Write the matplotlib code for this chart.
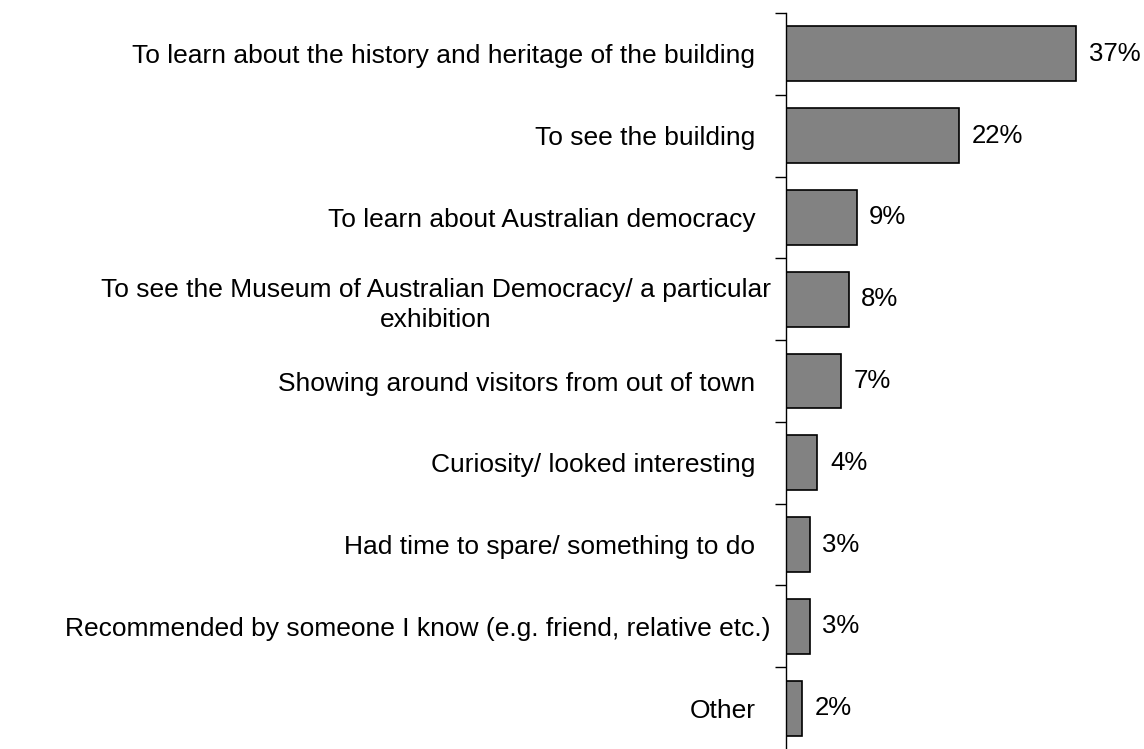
import matplotlib.pyplot as plt

# reasons for visiting, top to bottom
reasons = [
    "To learn about the history and heritage of the building",
    "To see the building",
    "To learn about Australian democracy",
    "To see the Museum of Australian Democracy/ a particular\nexhibition",
    "Showing around visitors from out of town",
    "Curiosity/ looked interesting",
    "Had time to spare/ something to do",
    "Recommended by someone I know (e.g. friend, relative etc.)",
    "Other",
]
percent = [37, 22, 9, 8, 7, 4, 3, 3, 2]

plt.rcParams['font.family'] = ['Liberation Sans', 'DejaVu Sans']

fig = plt.figure(figsize=(11.44, 7.49), dpi=100)
ax = fig.add_axes([786 / 1144, 0, 358 / 1144, 736 / 749])

y = list(range(len(reasons)))
ax.barh(y, percent, height=0.67, color='#828282', edgecolor='black', linewidth=1.2)

for yi, p in zip(y, percent):
    ax.text(p + 1.6, yi, f"{p}%", va='center', ha='left', fontsize=18.5)

ax.set_xlim(0, 358 / 7.85)
ax.set_ylim(len(reasons) - 0.5, -0.5)

# category labels on the left, ticks drawn between categories
ax.set_yticks(y)
ax.set_yticklabels(reasons, fontsize=19, ha='right', multialignment='center',
                   linespacing=1.35)
ax.tick_params(axis='y', which='major', length=0, pad=22)
# the two longest labels sit a little closer to the axis
for i in (3, 7):
    ax.yaxis.get_major_ticks()[i].set_pad(11)
ax.set_yticks([i - 0.5 for i in range(len(reasons))], minor=True)
ax.tick_params(axis='y', which='minor', length=8, width=1)

ax.set_xticks([])
for side in ['top', 'right', 'bottom']:
    ax.spines[side].set_visible(False)
ax.spines['left'].set_linewidth(1)

fig.savefig('out.png', dpi=100)
